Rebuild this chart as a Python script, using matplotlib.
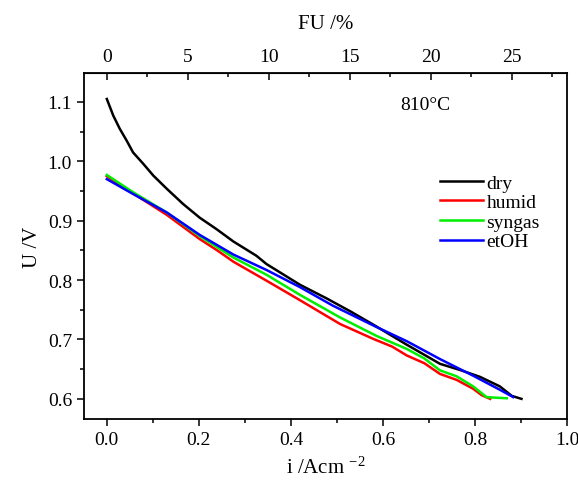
import numpy as np
import matplotlib
matplotlib.use("Agg")
import matplotlib.pyplot as plt
from matplotlib.ticker import MultipleLocator, FixedLocator

plt.rcParams['font.family'] = ['Liberation Serif', 'DejaVu Serif']
plt.rcParams['mathtext.default'] = 'regular'

# i (A/cm2) and U (V)
i_dry = [0, 0.014, 0.028, 0.043, 0.057, 0.079, 0.101, 0.130, 0.166, 0.202, 0.238,
         0.275, 0.325, 0.347, 0.42, 0.478, 0.53, 0.579, 0.65, 0.724, 0.77, 0.811,
         0.854, 0.88, 0.901]
u_dry = [1.105, 1.077, 1.055, 1.035, 1.015, 0.996, 0.976, 0.954, 0.928, 0.905, 0.886,
         0.865, 0.841, 0.827, 0.792, 0.769, 0.747, 0.725, 0.692, 0.659, 0.648, 0.637,
         0.621, 0.605, 0.600]

i_humid = [0, 0.057, 0.130, 0.202, 0.240, 0.275, 0.347, 0.42, 0.507, 0.579, 0.62,
           0.652, 0.69, 0.724, 0.76, 0.796, 0.815, 0.833]
u_humid = [0.975, 0.946, 0.910, 0.869, 0.850, 0.831, 0.799, 0.766, 0.726, 0.701, 0.688,
           0.673, 0.660, 0.642, 0.632, 0.617, 0.606, 0.600]

i_syngas = [0, 0.057, 0.130, 0.202, 0.275, 0.347, 0.42, 0.507, 0.586, 0.652, 0.69,
            0.724, 0.76, 0.796, 0.825, 0.845, 0.869]
u_syngas = [0.977, 0.948, 0.914, 0.874, 0.838, 0.809, 0.775, 0.737, 0.706, 0.684, 0.668,
            0.648, 0.638, 0.621, 0.603, 0.602, 0.601]

i_etoh = [0, 0.057, 0.130, 0.202, 0.275, 0.347, 0.42, 0.491, 0.586, 0.652, 0.724,
          0.796, 0.85, 0.883]
u_etoh = [0.970, 0.945, 0.914, 0.876, 0.843, 0.817, 0.788, 0.757, 0.721, 0.697, 0.667,
          0.639, 0.617, 0.603]

fu_per_i = 28.4  # FU % per A/cm2
fu_ticks = [0, 5, 10, 15, 20, 25]

fig = plt.figure(figsize=(5.78, 4.89), dpi=100)
ax = fig.add_axes([0.145, 0.141, 0.836, 0.708])

lw = 1.8
ax.plot(i_dry, u_dry, color='black', lw=lw, label='dry')
ax.plot(i_humid, u_humid, color='#ff0000', lw=lw, label='humid')
ax.plot(i_syngas, u_syngas, color='#00ee00', lw=lw, label='syngas')
ax.plot(i_etoh, u_etoh, color='#0000ff', lw=lw, label='etOH')

ax.set_xlim(-0.05, 1.0)
ax.set_ylim(0.566, 1.149)
ax.xaxis.set_major_locator(MultipleLocator(0.2))
ax.xaxis.set_minor_locator(MultipleLocator(0.1))
ax.yaxis.set_major_locator(MultipleLocator(0.1))
ax.yaxis.set_minor_locator(MultipleLocator(0.05))
ax.xaxis.set_major_formatter(lambda v, p: f'{v:.1f}')
ax.yaxis.set_major_formatter(lambda v, p: f'{v:.1f}')
ax.tick_params(which='major', direction='out', length=5, width=1.1, top=False, right=False,
               labelsize=14)
ax.tick_params(which='minor', direction='out', length=3, width=1.1, top=False, right=False)
for s in ax.spines.values():
    s.set_linewidth(1.3)

ax.set_xlabel('i /Acm $^{-2}$', fontsize=15, labelpad=6)
ax.set_ylabel('U /V', fontsize=15, labelpad=4)

top = ax.secondary_xaxis('top', functions=(lambda x: x * fu_per_i, lambda x: x / fu_per_i))
top.xaxis.set_major_locator(FixedLocator(fu_ticks))
top.xaxis.set_minor_locator(FixedLocator([2.5, 7.5, 12.5, 17.5, 22.5, 27.5]))
top.tick_params(which='major', direction='in', length=5, width=1.1, labelsize=14, pad=6)
top.tick_params(which='minor', direction='in', length=3, width=1.1)
top.set_xlabel('FU /%', fontsize=15, labelpad=14)

ax.text(0.637, 1.095, '810°C', fontsize=14, ha='left', va='center')

ax.legend(loc='upper right', bbox_to_anchor=(0.96, 0.73), frameon=False, fontsize=14,
          handlelength=2.2, handletextpad=0.2, labelspacing=0.1, borderaxespad=0)

fig.savefig('out.png', dpi=100)
